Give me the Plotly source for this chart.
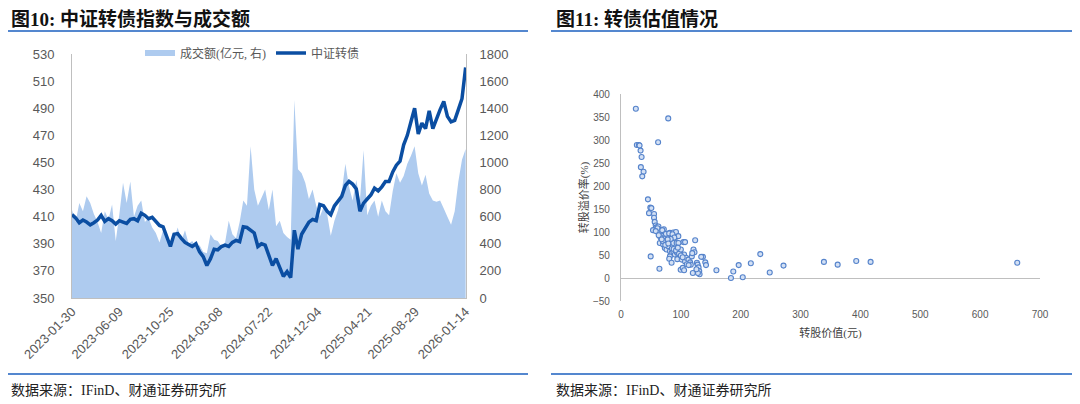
import pandas as pd
import plotly.graph_objects as go

# ---- left panel: 中证转债 index (left axis) and turnover (right axis), sampled every 10 days
index_close = [
    411.5, 409, 405.5, 407.5, 406, 404, 405.5, 407.5, 411, 406.5,
    408.5, 407, 404.5, 407, 406, 405, 408, 408.5, 407, 412.5,
    411, 408.5, 409.5, 406, 403.5, 402.5, 395, 388, 397, 397.5,
    394, 391, 389.5, 388, 390, 384, 380.5, 374, 379, 386,
    385.5, 388, 389, 388, 391, 392.5, 391.5, 402.5, 402, 400,
    398, 388, 390, 389, 381, 374, 379, 372, 366, 369.5,
    365, 400, 386, 397, 401, 406, 408, 407, 419, 418,
    414, 411.5, 418, 421.5, 425, 433, 436, 434, 430.5, 414,
    420, 423, 426, 431, 429, 432, 436, 436, 443, 448,
    451, 463, 470, 480, 490, 471, 479, 475, 488, 475,
    483, 489, 495, 484, 480, 481, 489, 497, 520,
]
turnover = [
    650, 560, 700, 640, 750, 700, 620, 560, 480, 640,
    580, 690, 420, 620, 850, 700, 860, 600, 680, 720,
    560, 590, 520, 480, 410, 500, 460, 400, 440, 520,
    420, 500, 400, 420, 370, 390, 340, 330, 470, 430,
    420, 380, 410, 570, 470, 440, 560, 720, 680, 1120,
    800, 680, 740, 800, 650, 800, 530, 570, 480, 450,
    430, 1460, 950, 920, 850, 730, 800, 680, 600, 670,
    620, 460, 570, 650, 780, 990, 820, 720, 870, 720,
    1090, 610, 680, 720, 600, 720, 640, 610, 790, 920,
    850, 900, 990, 1050, 1120, 920, 830, 910, 770, 720,
    710, 720, 660, 600, 540, 640, 860, 1020, 1100,
]
dates = pd.date_range("2023-01-30", periods=len(index_close), freq="10D")
date_ticks = ["2023-01-30", "2023-06-09", "2023-10-25", "2024-03-08", "2024-07-22",
              "2024-12-04", "2025-04-21", "2025-08-29", "2026-01-14"]

# ---- right panel: conversion value vs conversion premium
conv_value = [
    24.8, 78.9, 26.5, 29.9, 31, 62, 32.7, 34.4, 33.2, 37.7, 35.5,
    45, 49, 50.7, 46.8, 55.2, 55.2, 56.3, 58, 59.2, 53.5, 62.5, 64.8, 71.5, 49.6, 64.2,
    67, 64.8, 68.7, 72.1, 74.9, 77.7, 81.7, 87.3, 91.8, 84.5, 90.1, 95.8, 87.3, 93,
    70.4, 73.2, 76.1, 78.9, 81.7, 84.5, 87.3, 90.1, 93, 81.7, 95.8, 98.6, 80.6, 84.5,
    94.1, 101.4, 104.2, 107, 99.7, 103.1, 105.4, 107, 105.4, 108.7, 112.7, 115.5, 118.3,
    121.1, 122.8, 123.9, 116.6, 120, 126.8, 128, 129.6, 130.7, 131.3, 128.5, 136.9,
    140.8, 142, 159.4, 183.7, 187.6, 196.6, 203.4, 216.9, 232.7, 248.5, 271.5,
    339, 362, 393, 417, 662,
    61, 69, 75, 80.5, 86, 89, 83, 78, 96, 66, 70, 74, 79, 85, 88, 92, 97, 100, 103,
    110, 113, 119, 126, 134, 58, 63, 68, 100, 95,
]
conv_premium = [
    368, 347, 289, 289, 288, 295, 277, 263, 241, 231, 221,
    171, 153, 152, 141, 139, 131, 122, 114, 110, 104, 112, 99, 106, 47, 20,
    96, 76, 91, 86, 81, 93, 98, 99, 100, 91, 87, 91, 76, 76,
    73, 65, 62, 69, 58, 54, 58, 51, 56, 47, 51, 47, 42, 33,
    41, 40, 78, 78, 18, 22, 17, 36, 51, 44, 40, 34, 47,
    62, 56, 82, 29, 11, 33, 29, 23, 15, 8, 11, 46,
    34, 28, 17, 0, 14, 28, 1.5, 32, 52, 12, 27,
    35, 29, 37, 35, 33,
    108, 104, 96, 97, 95, 88, 85, 84, 76, 88, 80, 72, 75, 64, 63, 60, 53, 49, 45,
    30, 28, 54, 19, 46, 102, 93, 84, 62, 66,
]

# the page puts the figure 8px in from the window corner, so lay out in window pixels
OFF = 8
W, H = 1080 - OFF, 404 - OFF
CJK = "Liberation Serif, Noto Sans CJK SC"
TICK = "Liberation Sans, Arial"
GREY = "#595959"
AXIS = "#BFBFBF"
RULE = "#1B5FBF"

def px_x(v):
    return (v - OFF) / W

def px_y(v):
    return 1 - (v - OFF) / H

fig = go.Figure()

fig.add_trace(go.Scatter(
    x=dates, y=turnover, name="成交额(亿元, 右)", mode="none",
    fill="tozeroy", fillcolor="#AECBEF", xaxis="x", yaxis="y",
))
fig.add_trace(go.Scatter(
    x=dates, y=index_close, name="中证转债", mode="lines",
    line=dict(color="#0B4EA2", width=3.5), xaxis="x", yaxis="y2",
))
fig.add_trace(go.Scatter(
    x=conv_value, y=conv_premium, mode="markers", showlegend=False,
    marker=dict(size=5, color="#D3E0F4", line=dict(color="#5583CB", width=1.1)),
    xaxis="x2", yaxis="y3",
))

left_x = [px_x(72), px_x(466)]
left_y = [px_y(298), px_y(54)]
right_x = [px_x(621), px_x(1040)]
right_y = [px_y(301), px_y(94)]

fig.update_layout(
    width=W, height=H,
    margin=dict(l=0, r=0, t=0, b=0, autoexpand=False),
    paper_bgcolor="white", plot_bgcolor="white",
    showlegend=True,
    legend=dict(
        orientation="h", x=px_x(140), y=px_y(53), xanchor="left", yanchor="middle",
        font=dict(family=CJK, size=12, color=GREY), itemwidth=30,
        bgcolor="rgba(0,0,0,0)", tracegroupgap=0,
    ),
    xaxis=dict(
        domain=left_x, anchor="y", type="date", automargin=False,
        range=["2023-01-30", "2026-01-15"],
        tickvals=date_ticks, ticktext=date_ticks, tickangle=-45,
        tickfont=dict(family=TICK, size=13, color=GREY),
        showgrid=False, zeroline=False, showline=True, linecolor=AXIS, linewidth=1,
        ticks="",
    ),
    yaxis=dict(
        domain=left_y, anchor="x", side="right", range=[0, 1800], tick0=0, dtick=200,
        automargin=False,
        tickfont=dict(family=TICK, size=13, color=GREY), ticklabelstandoff=10,
        showgrid=False, zeroline=False, showline=True, linecolor=AXIS, linewidth=1,
    ),
    yaxis2=dict(
        overlaying="y", anchor="x", side="left", range=[350, 530], tick0=350, dtick=20,
        automargin=False,
        tickfont=dict(family=TICK, size=13, color=GREY), ticklabelstandoff=14,
        showgrid=False, zeroline=False, showline=True, linecolor=AXIS, linewidth=1,
    ),
    xaxis2=dict(
        domain=right_x, anchor="y3", range=[0, 700], dtick=100, automargin=False,
        tickfont=dict(family=TICK, size=10, color=GREY), ticklabelstandoff=6,
        showgrid=False, zeroline=False, showline=False, ticks="",
        title=dict(text="转股价值(元)", font=dict(family=CJK, size=11, color="#404040"), standoff=10),
    ),
    yaxis3=dict(
        domain=right_y, anchor="x2", range=[-50, 400], tick0=0, dtick=50, automargin=False,
        tickfont=dict(family=TICK, size=10, color=GREY), ticklabelstandoff=8,
        showgrid=False, zeroline=True, zerolinecolor=AXIS, zerolinewidth=1.2,
        showline=True, linecolor=AXIS, linewidth=1.2, ticks="",
        title=dict(text="转股溢价率(%)", font=dict(family=CJK, size=11, color="#404040"), standoff=2),
    ),
)

# panel titles, rules and sources
for x0, x1, title in [(8, 528, "<b>图10: 中证转债指数与成交额</b>"),
                      (551, 1078, "<b>图11: 转债估值情况</b>")]:
    tx = x0 + 1 if x0 < 100 else x0 + 3
    fig.add_shape(type="line", xref="paper", yref="paper",
                  x0=px_x(x0), x1=px_x(x1), y0=px_y(31), y1=px_y(31),
                  line=dict(color=RULE, width=1.5))
    fig.add_shape(type="line", xref="paper", yref="paper",
                  x0=px_x(x0), x1=px_x(x1), y0=px_y(374), y1=px_y(374),
                  line=dict(color=RULE, width=1.5))
    fig.add_annotation(text=title, xref="paper", yref="paper",
                       x=px_x(tx), y=px_y(19), xanchor="left", yanchor="middle",
                       showarrow=False, font=dict(family=CJK, size=19, color="#111111"))
    fig.add_annotation(text="数据来源：IFinD、财通证券研究所", xref="paper", yref="paper",
                       x=px_x(tx), y=px_y(390), xanchor="left", yanchor="middle",
                       showarrow=False, font=dict(family=CJK, size=14, color="#222222"))

fig.write_html("out.html")
